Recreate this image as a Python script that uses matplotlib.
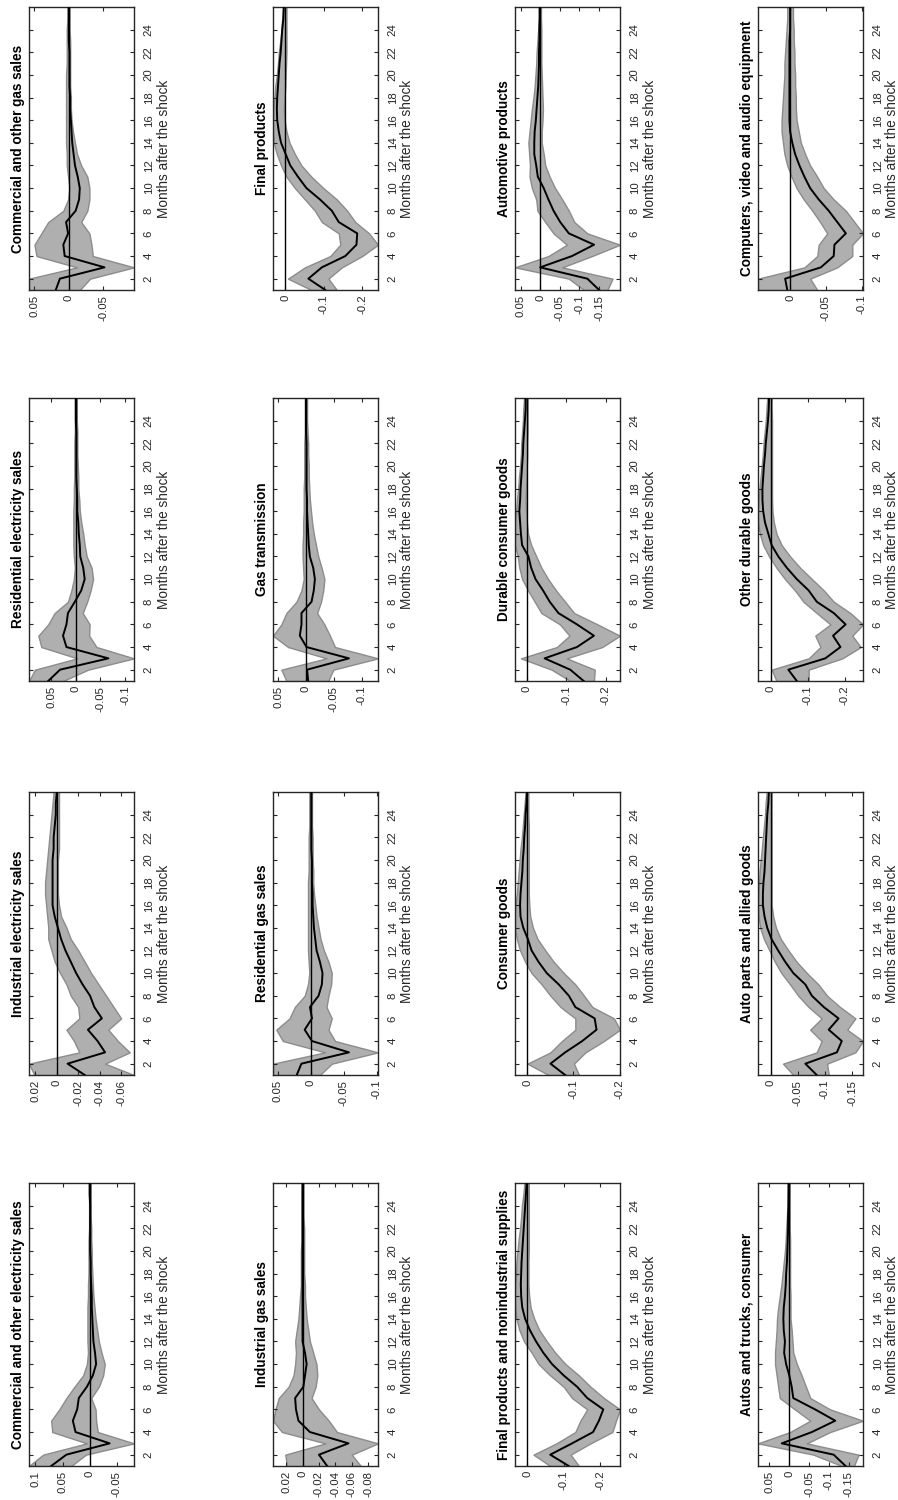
import numpy as np
import matplotlib
matplotlib.use('Agg')
import matplotlib.pyplot as plt

plt.rcParams['font.family'] = ['Liberation Sans', 'DejaVu Sans']

# months after the shock
months = list(range(1, 27))

# ---- row 1 ----
com_gas_mid = [0.019, 0.013, -0.052, 0.006, 0.008, 0.001, 0.004, -0.010, -0.015, -0.016, -0.013, -0.009, -0.007,
               -0.005, -0.004, -0.003, -0.002, -0.002, -0.001, -0.001, -0.001, -0.001, 0.000, 0.000, 0.000, 0.000]
com_gas_hi = [0.058, 0.058, -0.012, 0.047, 0.050, 0.040, 0.030, 0.008, 0.001, -0.001, 0.001, 0.003, 0.003,
              0.004, 0.004, 0.004, 0.004, 0.004, 0.004, 0.004, 0.003, 0.003, 0.003, 0.003, 0.002, 0.002]
com_gas_lo = [-0.016, -0.031, -0.095, -0.035, -0.033, -0.030, -0.018, -0.027, -0.030, -0.030, -0.027, -0.018, -0.012,
              -0.009, -0.006, -0.004, -0.003, -0.003, -0.002, -0.002, -0.002, -0.002, -0.002, -0.001, -0.001, -0.001]

fin_mid = [-0.104, -0.060, -0.095, -0.156, -0.185, -0.187, -0.139, -0.121, -0.090, -0.055, -0.033, -0.013, -0.001,
           0.011, 0.017, 0.021, 0.022, 0.021, 0.019, 0.017, 0.015, 0.012, 0.010, 0.008, 0.005, 0.004]
fin_hi = [-0.068, -0.007, -0.051, -0.117, -0.143, -0.139, -0.095, -0.077, -0.051, -0.025, -0.003, 0.011, 0.022,
          0.030, 0.032, 0.032, 0.031, 0.028, 0.026, 0.022, 0.019, 0.017, 0.013, 0.010, 0.008, 0.006]
fin_lo = [-0.134, -0.112, -0.147, -0.200, -0.241, -0.218, -0.182, -0.161, -0.134, -0.099, -0.068, -0.042, -0.025,
          -0.011, -0.003, 0.002, 0.004, 0.002, 0.000, -0.001, -0.002, -0.003, -0.003, -0.003, -0.003, -0.003]

auto_prod_mid = [-0.150, -0.120, 0.000, -0.081, -0.137, -0.073, -0.051, -0.034, -0.021, -0.009, 0.006, 0.010, 0.015,
                 0.015, 0.014, 0.011, 0.009, 0.007, 0.005, 0.004, 0.003, 0.003, 0.002, 0.002, 0.001, 0.001]
auto_prod_hi = [-0.111, -0.073, 0.064, -0.021, -0.068, -0.034, -0.013, 0.007, 0.010, 0.021, 0.027, 0.026, 0.028,
                0.030, 0.027, 0.024, 0.021, 0.017, 0.014, 0.012, 0.010, 0.009, 0.007, 0.005, 0.004, 0.004]
auto_prod_lo = [-0.171, -0.184, -0.056, -0.132, -0.203, -0.120, -0.087, -0.073, -0.056, -0.038, -0.024, -0.013, -0.009,
                -0.004, -0.004, -0.006, -0.007, -0.006, -0.005, -0.004, -0.003, -0.003, -0.003, -0.003, -0.002, -0.002]

comp_mid = [0.004, 0.007, -0.043, -0.061, -0.062, -0.078, -0.066, -0.054, -0.040, -0.028, -0.020, -0.013, -0.007,
            -0.003, 0.000, 0.001, 0.001, 0.001, 0.001, 0.001, 0.001, 0.001, 0.001, 0.000, 0.000, 0.000]
comp_hi = [0.045, 0.045, -0.020, -0.038, -0.040, -0.052, -0.042, -0.031, -0.019, -0.009, -0.002, 0.004, 0.008,
           0.010, 0.012, 0.012, 0.011, 0.010, 0.009, 0.008, 0.008, 0.007, 0.006, 0.005, 0.004, 0.004]
comp_lo = [-0.038, -0.028, -0.066, -0.087, -0.087, -0.102, -0.090, -0.078, -0.061, -0.047, -0.038, -0.028, -0.021,
           -0.015, -0.012, -0.009, -0.008, -0.008, -0.007, -0.007, -0.006, -0.006, -0.005, -0.005, -0.004, -0.004]

# ---- row 2 ----
res_elec_mid = [0.056, 0.032, -0.066, 0.019, 0.026, 0.019, 0.016, 0.002, -0.011, -0.018, -0.015, -0.009, -0.008,
                -0.006, -0.005, -0.003, -0.003, -0.002, -0.001, -0.001, -0.001, -0.001, -0.001, 0.000, 0.000, 0.000]
res_elec_hi = [0.095, 0.083, -0.003, 0.070, 0.076, 0.056, 0.043, 0.016, 0.009, 0.004, 0.002, 0.004, 0.005,
               0.005, 0.005, 0.005, 0.004, 0.004, 0.003, 0.003, 0.003, 0.003, 0.002, 0.002, 0.002, 0.002]
res_elec_lo = [0.026, -0.025, -0.118, -0.042, -0.027, -0.028, -0.014, -0.023, -0.030, -0.035, -0.032, -0.022, -0.018,
               -0.015, -0.011, -0.008, -0.007, -0.005, -0.005, -0.004, -0.003, -0.003, -0.003, -0.002, -0.002, -0.002]

gas_tr_mid = [-0.004, -0.002, -0.077, -0.001, 0.011, 0.008, 0.008, -0.010, -0.014, -0.016, -0.013, -0.007, -0.005,
              -0.004, -0.003, -0.002, -0.002, -0.001, -0.001, -0.001, -0.001, -0.001, 0.000, 0.000, 0.000, 0.000]
gas_tr_hi = [0.035, 0.044, -0.037, 0.032, 0.059, 0.044, 0.035, 0.017, 0.008, 0.004, 0.005, 0.006, 0.006,
             0.005, 0.005, 0.004, 0.004, 0.004, 0.003, 0.003, 0.003, 0.003, 0.002, 0.002, 0.002, 0.002]
gas_tr_lo = [-0.040, -0.049, -0.129, -0.052, -0.043, -0.033, -0.020, -0.027, -0.031, -0.033, -0.028, -0.022, -0.018,
             -0.014, -0.011, -0.009, -0.007, -0.006, -0.005, -0.005, -0.004, -0.004, -0.003, -0.002, -0.002, -0.002]

dur_mid = [-0.144, -0.110, -0.045, -0.127, -0.170, -0.127, -0.080, -0.058, -0.041, -0.022, -0.011, -0.004, 0.012,
           0.015, 0.017, 0.019, 0.017, 0.016, 0.014, 0.012, 0.010, 0.009, 0.007, 0.005, 0.003, 0.003]
dur_hi = [-0.110, -0.063, 0.015, -0.076, -0.108, -0.084, -0.037, -0.020, -0.003, 0.012, 0.019, 0.023, 0.030,
          0.030, 0.030, 0.027, 0.025, 0.022, 0.020, 0.017, 0.015, 0.014, 0.012, 0.010, 0.009, 0.007]
dur_lo = [-0.170, -0.172, -0.101, -0.191, -0.236, -0.179, -0.120, -0.097, -0.074, -0.054, -0.037, -0.024, -0.011,
          -0.003, 0.000, 0.002, 0.003, 0.002, 0.001, 0.000, -0.001, -0.001, -0.002, -0.002, -0.002, -0.002]

oth_dur_mid = [-0.071, -0.048, -0.148, -0.189, -0.169, -0.203, -0.171, -0.125, -0.103, -0.071, -0.044, -0.021, -0.003,
               0.006, 0.015, 0.020, 0.022, 0.022, 0.020, 0.018, 0.015, 0.013, 0.010, 0.007, 0.005, 0.004]
oth_dur_hi = [-0.016, -0.003, -0.103, -0.135, -0.121, -0.162, -0.125, -0.089, -0.066, -0.039, -0.016, 0.004, 0.020,
              0.029, 0.034, 0.034, 0.032, 0.030, 0.027, 0.024, 0.021, 0.019, 0.016, 0.013, 0.011, 0.009]
oth_dur_lo = [-0.103, -0.103, -0.194, -0.244, -0.221, -0.250, -0.216, -0.171, -0.144, -0.112, -0.080, -0.053, -0.030,
              -0.016, -0.009, -0.005, -0.004, -0.004, -0.004, -0.004, -0.004, -0.004, -0.004, -0.004, -0.003, -0.003]

# ---- row 3 ----
ind_elec_mid = [-0.026, -0.010, -0.045, -0.038, -0.029, -0.042, -0.035, -0.031, -0.024, -0.018, -0.013, -0.008, -0.004,
                -0.001, 0.002, 0.004, 0.004, 0.004, 0.004, 0.004, 0.003, 0.003, 0.002, 0.001, 0.001, 0.000]
ind_elec_hi = [0.021, 0.026, -0.021, -0.016, -0.009, -0.021, -0.020, -0.013, -0.009, -0.003, 0.002, 0.005, 0.008,
               0.008, 0.009, 0.010, 0.011, 0.011, 0.010, 0.009, 0.008, 0.007, 0.006, 0.005, 0.004, 0.003]
ind_elec_lo = [-0.072, -0.045, -0.068, -0.057, -0.048, -0.060, -0.053, -0.046, -0.039, -0.032, -0.026, -0.020, -0.013,
               -0.009, -0.004, -0.002, -0.001, -0.001, -0.001, -0.001, -0.002, -0.002, -0.002, -0.002, -0.002, -0.002]

res_gas_mid = [0.021, 0.014, -0.058, -0.002, 0.009, -0.002, 0.001, -0.012, -0.017, -0.018, -0.014, -0.009, -0.007,
               -0.005, -0.004, -0.003, -0.003, -0.002, -0.002, -0.002, -0.001, -0.001, -0.001, -0.001, -0.001, -0.001]
res_gas_hi = [0.057, 0.057, -0.022, 0.042, 0.052, 0.032, 0.024, 0.009, 0.004, 0.002, 0.003, 0.004, 0.004,
              0.004, 0.004, 0.004, 0.004, 0.004, 0.003, 0.003, 0.003, 0.003, 0.002, 0.002, 0.002, 0.002]
res_gas_lo = [-0.014, -0.032, -0.102, -0.037, -0.027, -0.032, -0.024, -0.027, -0.031, -0.032, -0.027, -0.020, -0.015,
              -0.012, -0.009, -0.007, -0.005, -0.004, -0.004, -0.003, -0.003, -0.003, -0.002, -0.002, -0.002, -0.002]

cons_mid = [-0.082, -0.050, -0.082, -0.119, -0.150, -0.146, -0.104, -0.090, -0.068, -0.042, -0.024, -0.009, -0.001,
            0.009, 0.015, 0.016, 0.015, 0.013, 0.011, 0.010, 0.008, 0.007, 0.005, 0.004, 0.002, 0.001]
cons_hi = [-0.046, 0.000, -0.050, -0.075, -0.104, -0.104, -0.072, -0.050, -0.031, -0.009, 0.005, 0.016, 0.023,
           0.027, 0.027, 0.026, 0.023, 0.021, 0.019, 0.017, 0.015, 0.012, 0.010, 0.008, 0.006, 0.004]
cons_lo = [-0.112, -0.101, -0.126, -0.166, -0.201, -0.188, -0.141, -0.123, -0.104, -0.079, -0.057, -0.039, -0.022,
           -0.012, -0.006, -0.004, -0.003, -0.003, -0.003, -0.003, -0.003, -0.003, -0.003, -0.002, -0.002, -0.002]

auto_parts_mid = [-0.085, -0.064, -0.122, -0.131, -0.107, -0.125, -0.098, -0.076, -0.064, -0.042, -0.027, -0.014, -0.002,
                  0.006, 0.011, 0.014, 0.014, 0.013, 0.011, 0.010, 0.009, 0.008, 0.007, 0.006, 0.004, 0.003]
auto_parts_hi = [-0.042, -0.023, -0.085, -0.094, -0.073, -0.094, -0.070, -0.051, -0.036, -0.020, -0.008, 0.002, 0.012,
                 0.019, 0.022, 0.023, 0.022, 0.021, 0.020, 0.018, 0.016, 0.014, 0.012, 0.010, 0.009, 0.007]
auto_parts_lo = [-0.107, -0.104, -0.156, -0.170, -0.141, -0.156, -0.128, -0.104, -0.088, -0.067, -0.048, -0.033, -0.019,
                 -0.010, -0.005, -0.002, -0.002, -0.002, -0.002, -0.002, -0.002, -0.002, -0.002, -0.002, -0.002, -0.002]

# ---- row 4 ----
com_elec_mid = [0.071, 0.043, -0.037, 0.026, 0.031, 0.023, 0.020, 0.005, -0.006, -0.012, -0.010, -0.007, -0.006,
                -0.005, -0.004, -0.004, -0.003, -0.002, -0.002, -0.001, -0.001, -0.001, -0.001, -0.001, 0.000, 0.000]
com_elec_hi = [0.112, 0.086, 0.005, 0.069, 0.071, 0.056, 0.043, 0.028, 0.012, 0.005, 0.003, 0.004, 0.004,
               0.004, 0.004, 0.003, 0.003, 0.002, 0.002, 0.002, 0.002, 0.001, 0.001, 0.001, 0.001, 0.001]
com_elec_lo = [0.034, 0.007, -0.082, -0.015, -0.012, -0.011, -0.003, -0.017, -0.025, -0.028, -0.022, -0.017, -0.014,
               -0.011, -0.009, -0.007, -0.006, -0.005, -0.004, -0.004, -0.003, -0.003, -0.002, -0.002, -0.002, -0.002]

ind_gas_mid = [-0.030, -0.020, -0.056, -0.009, 0.005, 0.008, 0.009, -0.001, -0.003, -0.005, -0.003, 0.000, 0.000,
               0.000, 0.000, 0.000, 0.000, 0.000, 0.000, 0.000, 0.000, 0.000, 0.000, 0.000, 0.000, 0.000]
ind_gas_hi = [0.019, 0.021, -0.028, 0.025, 0.036, 0.033, 0.029, 0.017, 0.011, 0.009, 0.008, 0.009, 0.007,
              0.005, 0.004, 0.003, 0.002, 0.002, 0.002, 0.002, 0.001, 0.001, 0.001, 0.001, 0.001, 0.001]
ind_gas_lo = [-0.071, -0.060, -0.092, -0.042, -0.032, -0.020, -0.011, -0.016, -0.018, -0.017, -0.013, -0.009, -0.007,
              -0.005, -0.004, -0.003, -0.003, -0.002, -0.002, -0.002, -0.002, -0.002, -0.001, -0.001, -0.001, -0.001]

fin_non_mid = [-0.114, -0.063, -0.123, -0.181, -0.197, -0.209, -0.165, -0.137, -0.100, -0.068, -0.044, -0.024, -0.007,
               0.006, 0.014, 0.017, 0.018, 0.017, 0.016, 0.014, 0.012, 0.010, 0.008, 0.006, 0.004, 0.002]
fin_non_hi = [-0.063, -0.017, -0.080, -0.132, -0.146, -0.165, -0.123, -0.100, -0.063, -0.031, -0.012, 0.009, 0.022,
              0.030, 0.033, 0.034, 0.033, 0.031, 0.030, 0.027, 0.024, 0.020, 0.017, 0.015, 0.011, 0.008]
fin_non_lo = [-0.142, -0.119, -0.174, -0.234, -0.244, -0.255, -0.211, -0.174, -0.142, -0.105, -0.077, -0.054, -0.033,
              -0.019, -0.009, -0.005, -0.003, -0.003, -0.003, -0.004, -0.004, -0.004, -0.004, -0.004, -0.004, -0.004]

autos_mid = [-0.142, -0.112, 0.019, -0.057, -0.116, -0.065, -0.010, -0.006, 0.000, 0.008, 0.013, 0.011, 0.014,
             0.015, 0.014, 0.011, 0.009, 0.008, 0.006, 0.005, 0.004, 0.003, 0.003, 0.002, 0.002, 0.002]
autos_hi = [-0.133, -0.061, 0.079, -0.002, -0.053, -0.014, 0.024, 0.028, 0.032, 0.036, 0.036, 0.034, 0.032,
            0.031, 0.028, 0.024, 0.020, 0.017, 0.014, 0.011, 0.009, 0.008, 0.006, 0.005, 0.004, 0.003]
autos_lo = [-0.163, -0.175, -0.044, -0.103, -0.186, -0.103, -0.053, -0.042, -0.031, -0.019, -0.010, -0.008, -0.006,
            -0.003, -0.003, -0.003, -0.002, -0.002, -0.002, -0.002, -0.002, -0.001, -0.001, -0.001, -0.001, -0.001]

# panel titles and value-axis ticks, in grid order (top row first)
titles = [
    'Commercial and other gas sales', 'Final products', 'Automotive products',
    'Computers, video and audio equipment',
    'Residential electricity sales', 'Gas transmission', 'Durable consumer goods', 'Other durable goods',
    'Industrial electricity sales', 'Residential gas sales', 'Consumer goods', 'Auto parts and allied goods',
    'Commercial and other electricity sales', 'Industrial gas sales',
    'Final products and nonindustrial supplies', 'Autos and trucks, consumer',
]
value_ticks = [
    [0.05, 0, -0.05], [0, -0.1, -0.2], [0.05, 0, -0.05, -0.1, -0.15], [0, -0.05, -0.1],
    [0.05, 0, -0.05, -0.1], [0.05, 0, -0.05, -0.1], [0, -0.1, -0.2], [0, -0.1, -0.2],
    [0.02, 0, -0.02, -0.04, -0.06], [0.05, 0, -0.05, -0.1], [0, -0.1, -0.2], [0, -0.05, -0.1, -0.15],
    [0.1, 0.05, 0, -0.05], [0.02, 0, -0.02, -0.04, -0.06, -0.08], [0, -0.1, -0.2], [0.05, 0, -0.05, -0.1, -0.15],
]
series = [
    (com_gas_mid, com_gas_lo, com_gas_hi), (fin_mid, fin_lo, fin_hi),
    (auto_prod_mid, auto_prod_lo, auto_prod_hi), (comp_mid, comp_lo, comp_hi),
    (res_elec_mid, res_elec_lo, res_elec_hi), (gas_tr_mid, gas_tr_lo, gas_tr_hi),
    (dur_mid, dur_lo, dur_hi), (oth_dur_mid, oth_dur_lo, oth_dur_hi),
    (ind_elec_mid, ind_elec_lo, ind_elec_hi), (res_gas_mid, res_gas_lo, res_gas_hi),
    (cons_mid, cons_lo, cons_hi), (auto_parts_mid, auto_parts_lo, auto_parts_hi),
    (com_elec_mid, com_elec_lo, com_elec_hi), (ind_gas_mid, ind_gas_lo, ind_gas_hi),
    (fin_non_mid, fin_non_lo, fin_non_hi), (autos_mid, autos_lo, autos_hi),
]

W, H = 898, 1500
fig = plt.figure(figsize=(W / 100, H / 100), dpi=100)

# panel boxes in pixels (the page is turned on its side)
col_left = [29, 273, 515, 758]
row_top = [7, 398, 792, 1183]
box_w, box_h = 105, 283

axis_col = '#262626'

for i, (title, ticks, (mid, lo, hi)) in enumerate(zip(titles, value_ticks, series)):
    r, c = divmod(i, 4)
    ax = fig.add_axes([col_left[c] / W, 1 - (row_top[r] + box_h) / H, box_w / W, box_h / H])

    ax.fill_betweenx(months, lo, hi, facecolor='#afafaf', edgecolor='#8c8c8c', linewidth=1.0, zorder=1)
    ax.axvline(0, color='black', linewidth=1.0, zorder=2)
    ax.plot(mid, months, color='black', linewidth=1.4, zorder=3)

    ax.set_ylim(1, 26)
    ax.set_xlim(max(hi), min(lo))  # values increase to the left

    ax.set_xticks(ticks)
    ax.set_xticklabels([f'{t:g}' for t in ticks], rotation=90, va='top', ha='center')
    ax.set_yticks(range(2, 25, 2))
    ax.set_yticklabels([str(m) for m in range(2, 25, 2)], rotation=90, va='center', ha='left')

    ax.yaxis.tick_right()
    ax.yaxis.set_label_position('right')
    ax.tick_params(axis='both', which='both', direction='in', length=3, width=0.8,
                   top=True, bottom=True, left=True, right=True,
                   labelsize=8.2, colors=axis_col)
    ax.tick_params(axis='x', pad=3.5)
    ax.tick_params(axis='y', pad=7)
    for sp in ax.spines.values():
        sp.set_color(axis_col)
        sp.set_linewidth(1.0)

    ax.set_ylabel('Months after the shock', fontsize=9.8, color=axis_col, rotation=90, labelpad=2)
    ax.text(-0.04, 0.5, title, transform=ax.transAxes, rotation=90, ha='right', va='center',
            fontsize=9.8, fontweight='bold', color='black')

fig.savefig('out.png', dpi=100)
